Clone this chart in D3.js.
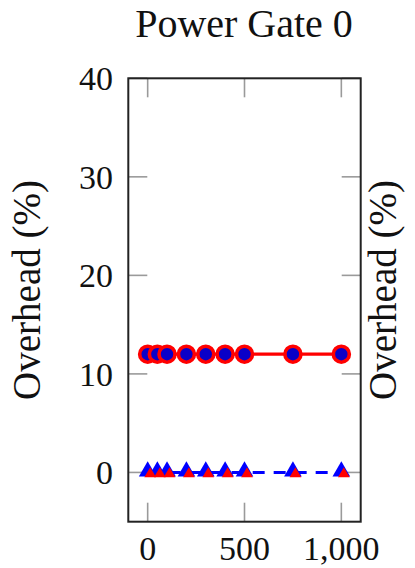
<!DOCTYPE html>
<html><head><meta charset="utf-8">
<script src="https://cdn.jsdelivr.net/npm/d3@7"></script>
<style>body{margin:0;background:#fff}svg{display:block}text{font-family:"Liberation Serif","DejaVu Serif",serif;fill:#111}</style>
</head><body>
<svg id="c" width="415" height="568"></svg>
<script>
const xValues = [0, 50, 100, 200, 300, 400, 500, 750, 1000];
const circleSeries = [12, 12, 12, 12, 12, 12, 12, 12, 12];
const triangleSeries = [0, 0, 0, 0, 0, 0, 0, 0, 0];
const xTicks = [0, 500, 1000];
const yTicks = [0, 10, 20, 30, 40];
const title = "Power Gate 0";
const yLabel = "Overhead (%)";

const svg = d3.select("#c");
const L = 128.3, R = 360.7, T = 78.3, B = 521.7;
const x = d3.scaleLinear().domain([-100, 1100]).range([L, R]);
const y = d3.scaleLinear().domain([-5, 40]).range([B, T]);
const fmt = d3.format(",");

const tickLen = 19;
const g = svg.append("g").attr("stroke", "#9a9a9a").attr("stroke-width", 1.6);
xTicks.forEach(v => {
  g.append("line").attr("x1", x(v)).attr("x2", x(v)).attr("y1", B).attr("y2", B - tickLen);
  g.append("line").attr("x1", x(v)).attr("x2", x(v)).attr("y1", T).attr("y2", T + tickLen);
});
yTicks.forEach(v => {
  g.append("line").attr("x1", L).attr("x2", L + tickLen).attr("y1", y(v)).attr("y2", y(v));
  g.append("line").attr("x1", R).attr("x2", R - tickLen).attr("y1", y(v)).attr("y2", y(v));
});

svg.append("rect").attr("x", L).attr("y", T).attr("width", R - L).attr("height", B - T)
  .attr("fill", "none").attr("stroke", "#222").attr("stroke-width", 2);

xTicks.forEach(v => {
  svg.append("text").attr("x", x(v)).attr("y", 560).attr("text-anchor", "middle")
    .attr("font-size", 34).text(fmt(v));
});
yTicks.forEach(v => {
  svg.append("text").attr("x", 113).attr("y", y(v) + 12).attr("text-anchor", "end")
    .attr("font-size", 34).text(v);
});

svg.append("text").attr("x", 244).attr("y", 37).attr("text-anchor", "middle")
  .attr("font-size", 40).text(title);
[27, 383].forEach(cx => {
  svg.append("text").attr("transform", `translate(${cx + 13},290) rotate(-90)`)
    .attr("text-anchor", "middle").attr("font-size", 39).text(yLabel);
});

const circData = xValues.map((v, i) => [v, circleSeries[i]]);
const triData = xValues.map((v, i) => [v, triangleSeries[i]]);
const line = d3.line().x(d => x(d[0])).y(d => y(d[1]));

svg.append("path").attr("d", line(circData)).attr("fill", "none")
  .attr("stroke", "#ff0000").attr("stroke-width", 3.2);
svg.selectAll(".c").data(circData).join("circle")
  .attr("cx", d => x(d[0])).attr("cy", d => y(d[1])).attr("r", 8)
  .attr("fill", "#0a00c8").attr("stroke", "#ff0000").attr("stroke-width", 3.6);

svg.append("path").attr("d", line(triData)).attr("fill", "none")
  .attr("stroke", "#0000ff").attr("stroke-width", 3).attr("stroke-dasharray", "12,9");
const tri = d3.symbol().type(d3.symbolTriangle);
svg.selectAll(".t").data(triData).join("path")
  .attr("transform", d => `translate(${x(d[0])},${y(d[1]) - 1})`)
  .attr("d", tri.size(135)()).attr("fill", "#0000ff");
svg.selectAll(".t2").data(triData).join("path")
  .attr("transform", d => `translate(${x(d[0]) + 2.5},${y(d[1]) + 1.5})`)
  .attr("d", tri.size(60)()).attr("fill", "#ff0000");
</script>
</body></html>
